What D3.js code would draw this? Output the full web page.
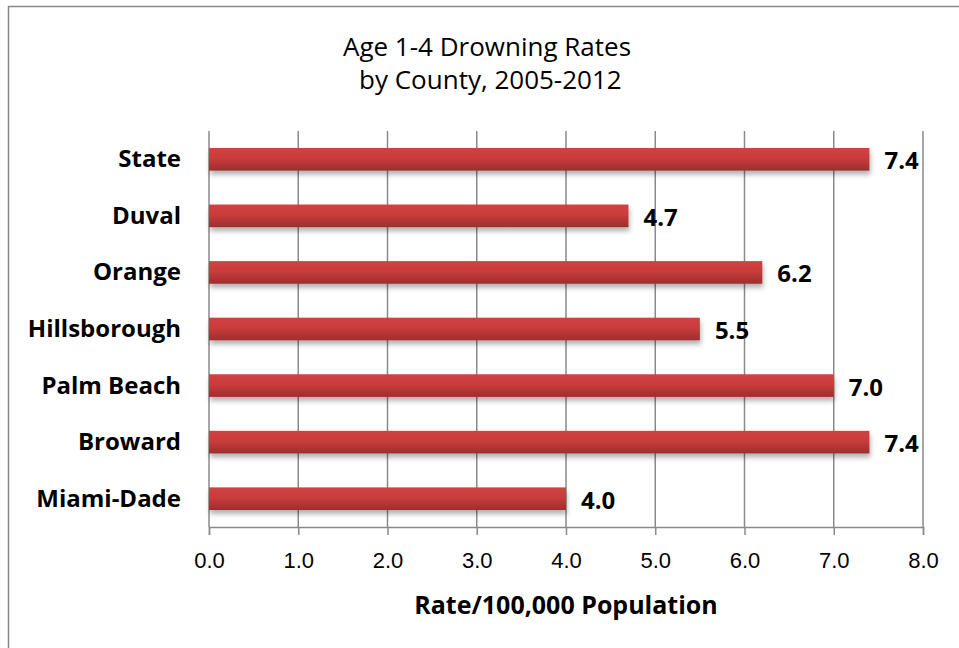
<!DOCTYPE html>
<html>
<head>
<meta charset="utf-8">
<script src="https://cdn.jsdelivr.net/npm/d3@7"></script>
<style>
  body { margin: 0; background: #fff; }
  svg { font-family: "Open Sans", "Noto Sans", sans-serif; }
</style>
</head>
<body>
<div id="chart"></div>
<script>
// Chart data
const counties = ['State', 'Duval', 'Orange', 'Hillsborough', 'Palm Beach', 'Broward', 'Miami-Dade'];
const rates = [7.4, 4.7, 6.2, 5.5, 7.0, 7.4, 4.0];
const tickValues = [0, 1, 2, 3, 4, 5, 6, 7, 8];
const titleLines = ['Age 1-4 Drowning Rates', ' by County, 2005-2012'];
const axisTitle = 'Rate/100,000 Population';

const width = 959;
const height = 648;
const margin = { top: 131, right: 36, bottom: 121, left: 209 };

const svg = d3.select('#chart')
    .append('svg')
    .attr('width', width)
    .attr('height', height);

// bar gradient + shadow
const defs = svg.append('defs');
const grad = defs.append('linearGradient')
    .attr('id', 'barGrad')
    .attr('x1', 0).attr('y1', 0).attr('x2', 0).attr('y2', 1);
grad.append('stop').attr('offset', '0%').attr('stop-color', '#d24242');
grad.append('stop').attr('offset', '45%').attr('stop-color', '#c93c3c');
grad.append('stop').attr('offset', '100%').attr('stop-color', '#9c2e2e');

const shadow = defs.append('filter')
    .attr('id', 'shadow')
    .attr('x', '-5%').attr('y', '-30%').attr('width', '110%').attr('height', '190%');
shadow.append('feDropShadow')
    .attr('dx', 1).attr('dy', 4).attr('stdDeviation', 2.5)
    .attr('flood-color', '#000').attr('flood-opacity', 0.3);

// outer frame
svg.append('rect')
    .attr('x', 8.5).attr('y', 6.5)
    .attr('width', width + 10).attr('height', height + 10)
    .attr('fill', 'none')
    .attr('stroke', '#878787')
    .attr('stroke-width', 1.5);

const x = d3.scaleLinear()
    .domain([0, 8])
    .range([margin.left, width - margin.right]);

const y = d3.scaleBand()
    .domain(counties)
    .range([margin.top, height - margin.bottom])
    .paddingInner(0.6)
    .paddingOuter(0.3);

// gridlines
svg.append('g')
    .selectAll('line')
    .data(tickValues)
    .enter()
    .append('line')
    .attr('x1', d => x(d)).attr('x2', d => x(d))
    .attr('y1', margin.top).attr('y2', height - margin.bottom)
    .attr('stroke', '#8a8a8a')
    .attr('stroke-width', 1.5);

// x axis
const xAxis = svg.append('g')
    .attr('transform', `translate(0,${height - margin.bottom})`)
    .call(d3.axisBottom(x)
        .tickValues(tickValues)
        .tickFormat(d3.format('.1f'))
        .tickSize(8)
        .tickPadding(17));
xAxis.select('.domain').attr('stroke', '#8a8a8a').attr('stroke-width', 1.5);
xAxis.selectAll('.tick line').attr('stroke', '#8a8a8a').attr('stroke-width', 1.5);
xAxis.selectAll('.tick text')
    .attr('fill', '#000')
    .style('font-size', '22px');

// bars
svg.append('g')
    .selectAll('rect')
    .data(counties)
    .enter()
    .append('rect')
    .attr('x', x(0))
    .attr('y', d => y(d))
    .attr('width', (d, i) => x(rates[i]) - x(0))
    .attr('height', y.bandwidth())
    .attr('fill', 'url(#barGrad)')
    .attr('filter', 'url(#shadow)');

// value labels
svg.append('g')
    .selectAll('text')
    .data(counties)
    .enter()
    .append('text')
    .attr('x', (d, i) => x(rates[i]) + 15)
    .attr('y', d => y(d) + y.bandwidth() / 2 + 10)
    .style('font-size', '24px')
    .style('font-weight', 'bold')
    .text((d, i) => rates[i].toFixed(1));

// category labels
svg.append('g')
    .selectAll('text')
    .data(counties)
    .enter()
    .append('text')
    .attr('x', margin.left - 28)
    .attr('y', d => y(d) + y.bandwidth() / 2 + 8)
    .attr('text-anchor', 'end')
    .style('font-size', '24px')
    .style('font-weight', 'bold')
    .text(d => d);

// title
svg.append('text')
    .attr('x', 487)
    .attr('y', 56)
    .attr('text-anchor', 'middle')
    .style('font-size', '26px')
    .selectAll('tspan')
    .data(titleLines)
    .enter()
    .append('tspan')
    .attr('x', 487)
    .attr('dy', (d, i) => i === 0 ? 0 : 33)
    .attr('xml:space', 'preserve')
    .text(d => d);

// axis title
svg.append('text')
    .attr('x', (x(0) + x(8)) / 2)
    .attr('y', 614)
    .attr('text-anchor', 'middle')
    .style('font-size', '25px')
    .style('font-weight', 'bold')
    .text(axisTitle);
</script>
</body>
</html>
